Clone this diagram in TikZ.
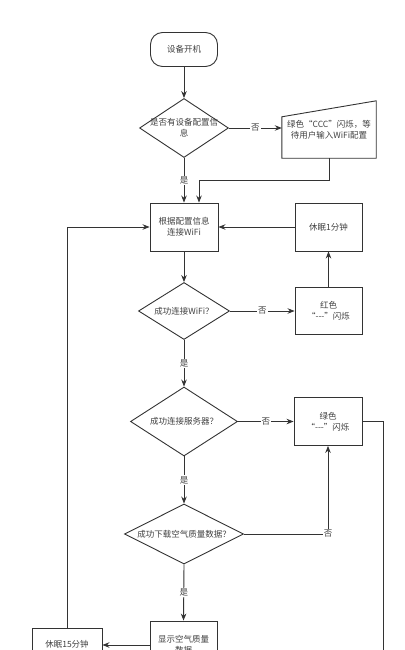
\documentclass[tikz,border=0pt]{standalone}
\usepackage{fontspec}
\setmainfont{Noto Sans CJK SC}
\usetikzlibrary{arrows.meta,%
		calc,%
		shapes.geometric}
\definecolor{linea}{HTML}{333333}
\definecolor{testo}{HTML}{404040}

\begin{document}
\begin{tikzpicture}[x=1pt,y=-1pt,font=\fontsize{8.5}{11}\selectfont,
  every node/.style={text=testo,align=center},
  blocco/.style={draw=linea,line width=0.9pt,minimum width=68,minimum height=48,inner sep=0pt},
  rombo/.style={draw=linea,line width=0.9pt,diamond,inner sep=0pt},
  freccia/.style={draw=linea,line width=0.9pt,-{Stealth[length=7pt,width=5.5pt]}},
  etichetta/.style={fill=white,inner sep=1pt}]

  \useasboundingbox (0,0) rectangle (404,650);%i margini della figura
  \clip (0,0) rectangle (404,650);%la figura e' tagliata in basso

  \node[blocco,rounded corners=12,minimum width=67,minimum height=34] (avvio) at (184,49.5) {设备开机};%inizio
  \node[rombo,minimum width=89,minimum height=59,label={[name=testo1]center:是否有设备配置信\\息}] (rombo1) at (184,128) {};%primo test
  \node[minimum width=94,minimum height=57,inner sep=0pt] (attesa) at (329,129.5) {绿色“CCC”闪烁，等\\待用户输入WiFi配置};%input manuale
  \node[blocco] (config) at (184,227) {根据配置信息\\连接WiFi};
  \node[blocco,minimum width=67] (sonno1) at (328.5,227) {休眠1分钟};
  \node[rombo,minimum width=91,minimum height=57,label={[name=testo2]center:成功连接WiFi？}] (rombo2) at (184,311) {};
  \node[blocco,minimum width=67,minimum height=47] (rosso) at (328.5,311) {红色\\“{-}{-}{-}”闪烁};
  \node[rombo,minimum width=107,minimum height=69,label={[name=testo3]center:成功连接服务器？}] (rombo3) at (184,421.5) {};
  \node[blocco] (verde) at (328,421.5) {绿色\\“{-}{-}{-}”闪烁};
  \node[rombo,minimum width=119,minimum height=60,label={[name=testo4]center:成功下载空气质量数据？}] (rombo4) at (184,534) {};
  \node[blocco,minimum width=67] (mostra) at (183.5,645) {显示空气质量\\数据};
  \node[blocco,minimum width=70,minimum height=32] (sonno15) at (67,644) {休眠15分钟};
  \coordinate (fuori) at (383,700);%la linea esce dalla figura

  \draw[draw=linea,line width=0.9pt] (attesa.south west) -- (attesa.south east) -- (attesa.north east) -- ($(attesa.north west)+(0,16)$) -- cycle;%bordo obliquo

  \draw[freccia] (avvio.south) -- (rombo1.north);
  \draw[freccia] (rombo1.east) -- node[etichetta] (no1) {否} (rombo1.east -| attesa.west);
  \draw[freccia] (rombo1.south) -- node[etichetta] (si1) {是} (config.north);
  \draw[freccia] (attesa.south) -- ++(0,22) -| ($(config.north)+(15,0)$);%ritorno dalla configurazione
  \draw[freccia] (sonno1.west) -- (config.east);
  \draw[freccia] (config.south) -- (rombo2.north);
  \draw[freccia] (rombo2.east) -- node[etichetta] (no2) {否} (rosso.west);
  \draw[freccia] (rosso.north) -- (sonno1.south);
  \draw[freccia] (rombo2.south) -- node[etichetta] (si2) {是} (rombo3.north);
  \draw[freccia] (rombo3.east) -- node[etichetta] (no3) {否} (verde.west);
  \draw[draw=linea,line width=0.9pt] (verde.east) -| (fuori);
  \draw[freccia] (rombo3.south) -- node[etichetta] (si3) {是} (rombo4.north);
  \draw[freccia] (rombo4.east) -| node[etichetta,pos=0.5] (no4) {否} (verde.south);
  \draw[freccia] (rombo4.south) -- node[etichetta] (si4) {是} (mostra.north);
  \draw[freccia] (mostra.west) -- (mostra.west -| sonno15.east);
  \draw[freccia] (sonno15.north) |- (config.west);%ritorno dopo 15 minuti
\end{tikzpicture}
\end{document}
